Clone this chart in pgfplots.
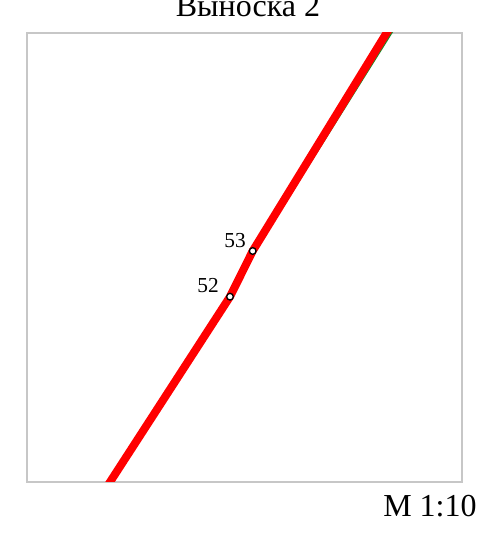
\documentclass[border=0pt]{standalone}
\usepackage{pgfplots}
\pgfplotsset{compat=1.18}
\usepackage{fontspec}
\setmainfont{Liberation Serif}
\definecolor{lred}{RGB}{255,0,0}
\definecolor{lgreen}{RGB}{30,140,40}
\begin{document}
\begin{tikzpicture}[x=0.75pt,y=0.75pt]
\useasboundingbox (0,0) rectangle (478,539);
\begin{axis}[at={(20.25pt,42.75pt)}, anchor=south west, scale only axis,
  width=326.25pt, height=336.75pt,
  xmin=27, xmax=462, ymin=57, ymax=506,
  axis line style={draw=black!22, line width=1.5pt},
  ticks=none, clip=true]
\addplot[lgreen, line width=1.5pt, no markers] coordinates {(253.5,286) (256.0,290) (399.5,519)};
\addplot[lred, line width=6pt, no markers, line join=round] coordinates {(101.6,44) (230,242.3) (252.7,288) (394.5,519)};
\addplot[only marks, mark=*, mark size=2.5pt, mark options={fill=white, draw=black, line width=1pt}] coordinates {(230,242.3) (252.7,288)};
\node[anchor=base east, font=\fontsize{16}{19}\selectfont, inner sep=0pt] at (axis cs:246,291) {53};
\node[anchor=base east, font=\fontsize{16}{19}\selectfont, inner sep=0pt] at (axis cs:219,246) {52};
\end{axis}
\node[anchor=base, font=\fontsize{24}{28}\selectfont, inner sep=0pt] at (248,522) {Выноска 2};
\node[anchor=base west, font=\fontsize{24}{28}\selectfont, inner sep=0pt] at (383,22) {M 1:10};
\end{tikzpicture}
\end{document}
